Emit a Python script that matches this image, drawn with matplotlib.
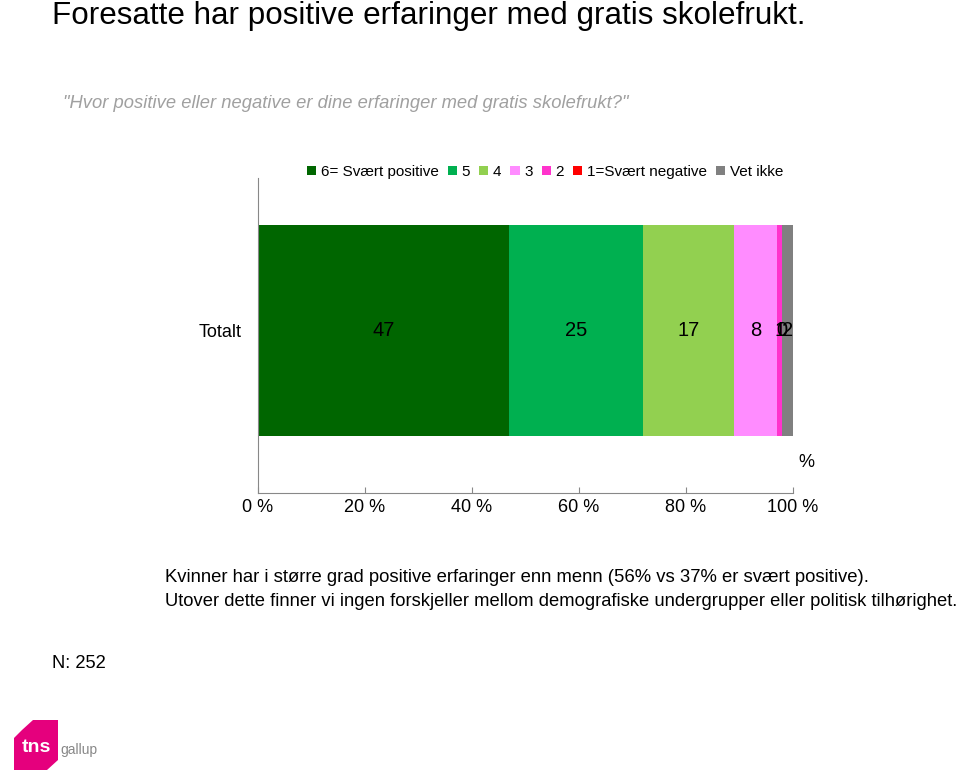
import matplotlib.pyplot as plt
from matplotlib.patches import Polygon

plt.rcParams['font.family'] = ['Liberation Sans', 'DejaVu Sans']

# data
categories = ['Totalt']
series = ['6= Svært positive', '5', '4', '3', '2', '1=Svært negative', 'Vet ikke']
values = [47, 25, 17, 8, 1, 0, 2]
colors = ['#006600', '#00B050', '#92D050', '#FF8CFF', '#FF33CC', '#FF0000', '#808080']
xticks = [0, 20, 40, 60, 80, 100]

fig = plt.figure(figsize=(9.6, 7.78), dpi=100)
ax = fig.add_axes([258 / 960, 1 - 493 / 778, 535 / 960, 315 / 778])

left = 0
for name, v, c in zip(series, values, colors):
    ax.barh(0, v, left=left, height=0.667, color=c, label=name)
    ax.text(left + v / 2, 0, str(v), ha='center', va='center', fontsize=14.5, color='black')
    left += v

ax.set_xlim(0, 100)
ax.set_ylim(-0.516, 0.484)
ax.set_xticks(xticks)
ax.set_xticklabels([f'{t} %' for t in xticks], fontsize=13)
ax.set_yticks([0])
ax.set_yticklabels(categories, fontsize=13)
ax.tick_params(axis='y', length=0, pad=12)
ax.tick_params(axis='x', color='#888888', length=4, direction='in', pad=4)
for s in ['top', 'right']:
    ax.spines[s].set_visible(False)
ax.spines['left'].set_color('#888888')
ax.spines['bottom'].set_color('#888888')
ax.text(101, -0.42, '%', fontsize=13, ha='left', va='center')

fig.legend(loc='center', bbox_to_anchor=(545 / 960, 1 - 172 / 778), ncol=7, frameon=False,
           fontsize=11, handlelength=0.6, handleheight=0.6, handletextpad=0.3, columnspacing=0.6)

fig.text(52 / 960, 1 - 1 / 778, 'Foresatte har positive erfaringer med gratis skolefrukt.',
         fontsize=22.6, ha='left', va='top')
fig.text(63 / 960, 1 - 103 / 778, '"Hvor positive eller negative er dine erfaringer med gratis skolefrukt?"',
         fontsize=13.2, ha='left', va='center', style='italic', color='#A0A0A0')
fig.text(165 / 960, 1 - 578 / 778,
         'Kvinner har i større grad positive erfaringer enn menn (56% vs 37% er svært positive).',
         fontsize=13.3, ha='left', va='center')
fig.text(165 / 960, 1 - 601 / 778,
         'Utover dette finner vi ingen forskjeller mellom demografiske undergrupper eller politisk tilhørighet.',
         fontsize=13.2, ha='left', va='center')
fig.text(52 / 960, 1 - 664 / 778, 'N: 252', fontsize=13.2, ha='left', va='center')

# tns gallup logo
W, H = 960, 778
pts = [(22, 730), (33, 720), (58, 720), (58, 760), (47, 770), (14, 770), (14, 738)]
fig.patches.append(Polygon([(x / W, 1 - y / H) for x, y in pts], closed=True,
                           transform=fig.transFigure, facecolor='#E5007D', edgecolor='none'))
fig.text(36 / W, 1 - 748 / H, 'tns', fontsize=14, fontweight='bold', color='white', ha='center', va='center')
fig.text(60 / W, 1 - 750 / H, 'gallup', fontsize=10, color='#888888', ha='left', va='center')

fig.savefig('out.png', dpi=100)
